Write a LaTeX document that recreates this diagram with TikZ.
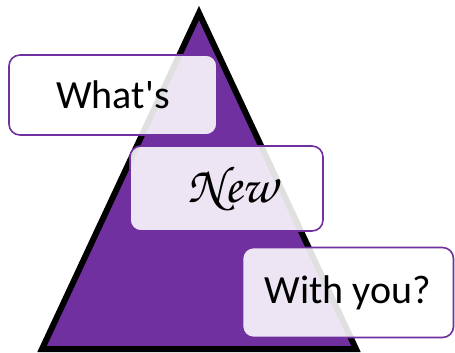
\documentclass[tikz,border=0pt]{standalone}
\usepackage{fontspec}
\setmainfont{Carlito}
\definecolor{tripurple}{HTML}{7030A0}
\newcommand{\straightquote}{\XeTeXglyph\XeTeXcharglyph"0027\relax}
\begin{document}
\begin{tikzpicture}[x=1pt,y=-1pt,
  labelbox/.style={draw=tripurple, line width=1.6pt, rounded corners=11pt,
    fill=white, fill opacity=0.88, text opacity=1, inner sep=0pt,
    font=\fontsize{40}{44}\selectfont}]
\useasboundingbox (0,0) rectangle (455,353);
\coordinate (apex) at (199,13);
\coordinate (bl) at (42,349);
\coordinate (br) at (356,349);
\fill[tripurple] (apex) -- (br) -- (bl) -- cycle;
\draw[black, line width=6pt, line join=miter] (apex) -- (br) -- (bl) -- cycle;
\node[labelbox, minimum width=208pt, minimum height=80pt] (whats) at (113,95) {What\straightquote s};
\node[labelbox, minimum width=193pt, minimum height=85pt] (new) at (226.5,188.5)
  {\hspace*{12pt}{\fontencoding{T1}\fontfamily{pzc}\fontseries{m}\fontshape{it}\fontsize{52}{56}\selectfont New}};
\node[labelbox, minimum width=211pt, minimum height=90pt] (withyou) at (348,292.5) {With you?};
\end{tikzpicture}
\end{document}
